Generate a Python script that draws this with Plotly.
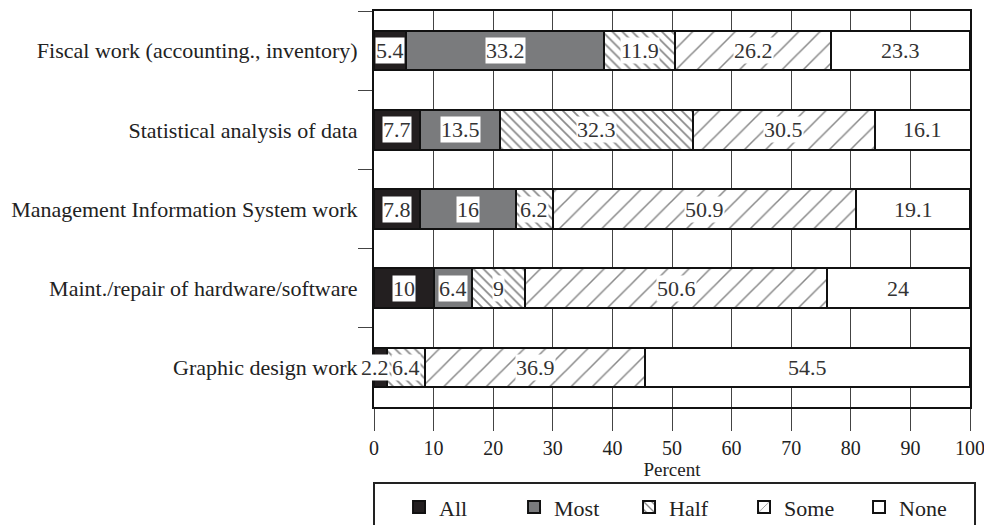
import plotly.graph_objects as go

categories = [
    "Fiscal work (accounting., inventory)",
    "Statistical analysis of data",
    "Management Information System work",
    "Maint./repair of hardware/software",
    "Graphic design work",
]
series_names = ["All", "Most", "Half", "Some", "None"]
all_vals = [5.4, 7.7, 7.8, 10, 2.2]
most_vals = [33.2, 13.5, 16, 6.4, 0]
half_vals = [11.9, 32.3, 6.2, 9, 6.4]
some_vals = [26.2, 30.5, 50.9, 50.6, 36.9]
none_vals = [23.3, 16.1, 19.1, 24, 54.5]
x_ticks = [0, 10, 20, 30, 40, 50, 60, 70, 80, 90, 100]

series_vals = [all_vals, most_vals, half_vals, some_vals, none_vals]
styles = [
    dict(color="#231f20"),
    dict(color="#7a7b7d"),
    dict(color="white", pattern=dict(shape="\\", size=7, solidity=0.24, fgcolor="#111", bgcolor="white")),
    dict(color="white", pattern=dict(shape="/", size=15, solidity=0.1, fgcolor="#111", bgcolor="white")),
    dict(color="white"),
]

FONT = "Liberation Serif"
fig = go.Figure()
for name, vals, st in zip(series_names, series_vals, styles):
    fig.add_trace(go.Bar(
        y=categories, x=vals, name=name, orientation="h",
        marker=dict(line=dict(color="#111", width=2), **st),
        hoverinfo="x+name",
    ))

annotations = []
for i, cat in enumerate(categories):
    cum = 0
    for vals in series_vals:
        v = vals[i]
        if v > 0:
            annotations.append(dict(
                x=cum + v / 2, y=cat, xref="x", yref="y",
                text=f"{v:g}", showarrow=False,
                xshift=-6 if v < 3 else 0,
                font=dict(family=FONT, size=22, color="#333"),
                bgcolor="white", borderpad=0,
            ))
        cum += v

# page body has an 8px margin: size the figure so the plot lands where the reference has it
fig.update_layout(
    width=984, height=517,
    margin=dict(l=366, r=22, t=3, b=118, autoexpand=False),
    barmode="stack", bargap=0.5,
    plot_bgcolor="white", paper_bgcolor="white",
    font=dict(family=FONT, size=22, color="#222"),
    annotations=annotations,
    showlegend=True,
    legend=dict(
        orientation="h", x=0.042, xanchor="left", y=-0.253, yanchor="middle",
        borderwidth=0, bgcolor="rgba(0,0,0,0)",
        font=dict(family=FONT, size=22, color="#222"),
        traceorder="normal", entrywidth=70, entrywidthmode="pixels",
    ),
    shapes=[dict(
        type="rect", xref="paper", yref="paper",
        x0=0, x1=1.0084, y0=-0.192, y1=-0.36,
        line=dict(color="#222", width=2), fillcolor="rgba(0,0,0,0)", layer="below",
    )],
)
fig.update_xaxes(
    range=[0, 100], tickvals=x_ticks, ticktext=[str(t) for t in x_ticks],
    showgrid=True, gridcolor="#444", gridwidth=1,
    showline=True, linecolor="#111", linewidth=2, mirror=True,
    ticks="outside", ticklen=22, tickcolor="#444", tickwidth=1,
    tickfont=dict(family=FONT, size=20, color="#222"),
    ticklabeloverflow="allow",
    title=dict(text="Percent", font=dict(family=FONT, size=19, color="#222"), standoff=0),
    zeroline=False, automargin=False,
)
fig.update_yaxes(
    categoryorder="array", categoryarray=categories, autorange="reversed",
    showgrid=False, tickson="boundaries",
    showline=True, linecolor="#111", linewidth=2, mirror=True,
    ticks="outside", ticklen=14, tickcolor="#444", tickwidth=1,
    ticklabelstandoff=10,
    tickfont=dict(family=FONT, size=22, color="#222"),
    automargin=False,
)

fig.write_html("out.html")
